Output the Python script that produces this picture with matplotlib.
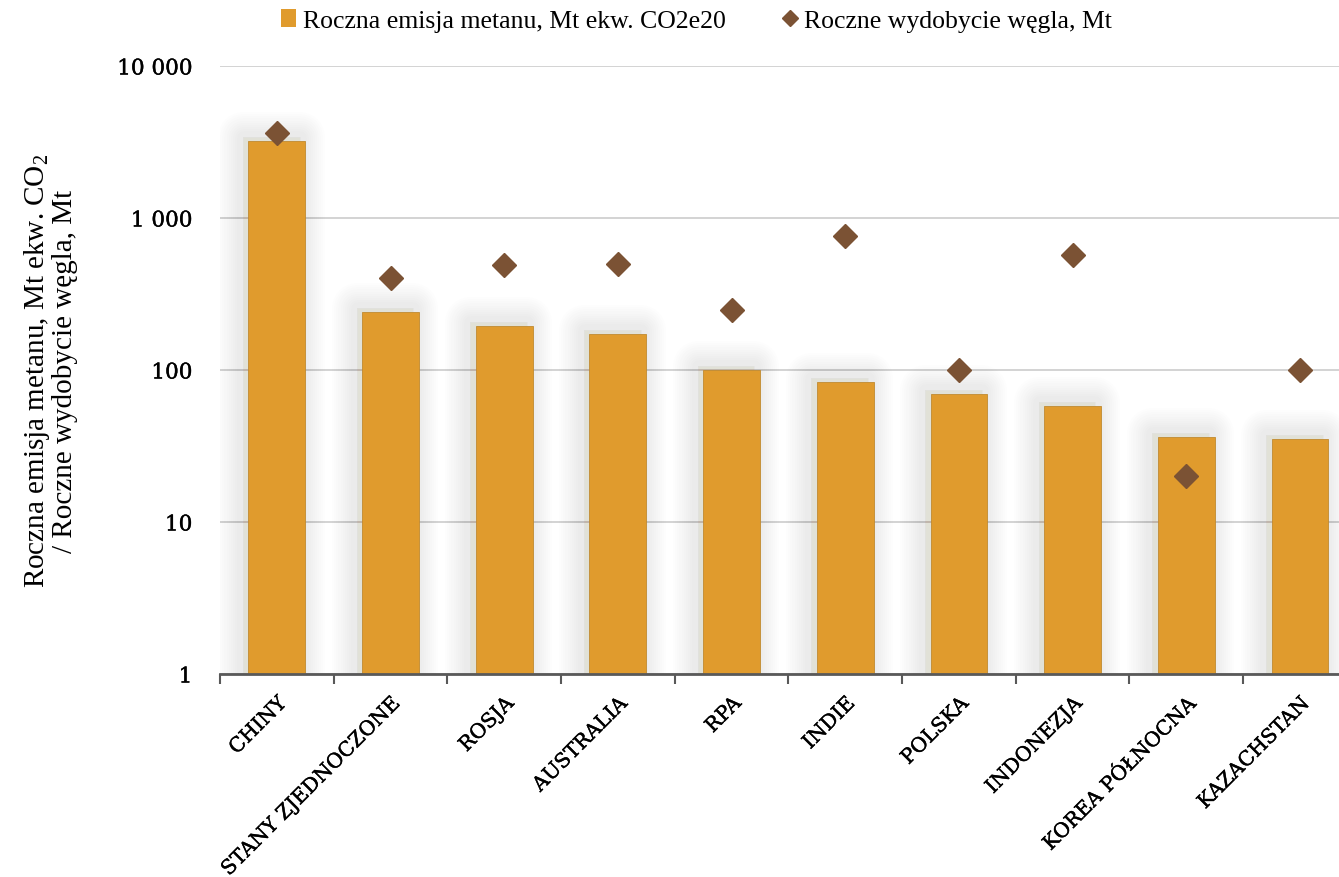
import numpy as np
import matplotlib
matplotlib.use("Agg")
import matplotlib.pyplot as plt
import matplotlib.patheffects as pe
from matplotlib.ticker import FixedLocator, FuncFormatter, NullFormatter
from matplotlib.lines import Line2D
from matplotlib.patches import Patch

# dane: emisja metanu z kopalń węgla vs. wydobycie węgla
kraje = ["CHINY", "STANY ZJEDNOCZONE", "ROSJA", "AUSTRALIA", "RPA",
         "INDIE", "POLSKA", "INDONEZJA", "KOREA PÓŁNOCNA", "KAZACHSTAN"]
emisja_metanu = [3200, 241, 195, 173, 100, 83, 69, 58, 36, 35]
wydobycie_wegla = [3620, 403, 490, 498, 248, 762, 100, 571, 20, 100]

KOLOR_SLUPKA = "#E09B2D"
KOLOR_ROMBU = "#7B5234"

plt.rcParams["font.family"] = ["DejaVu Serif"]
plt.rcParams["mathtext.fontset"] = "custom"
plt.rcParams["mathtext.rm"] = "Liberation Serif"

fig = plt.figure(figsize=(13.39, 8.78), dpi=100)
ax = fig.add_axes([0.1643, 0.2312, 0.849, 0.6925])

x = np.arange(len(kraje))

# miękki cień pod słupkami (kilka półprzezroczystych obrysów z zaokrąglonymi rogami)
cien = [pe.Stroke(linewidth=lw, foreground="black", alpha=0.008, offset=(-4, 3),
                  joinstyle="round")
        for lw in range(36, 6, -3)]
ax.bar(x, emisja_metanu, width=0.5, color=KOLOR_SLUPKA, edgecolor="#C08A30",
       linewidth=0.6, zorder=3, bottom=1e-3,
       path_effects=cien + [pe.Normal()])

ax.plot(x, wydobycie_wegla, linestyle="none", marker="D", markersize=12,
        color=KOLOR_ROMBU, zorder=4)

ax.set_yscale("log")
ax.set_ylim(1, 10000)
ax.set_xlim(-0.5, 9.5)

ax.yaxis.set_major_locator(FixedLocator([1, 10, 100, 1000, 10000]))
ax.yaxis.set_minor_formatter(NullFormatter())
ax.yaxis.set_major_formatter(FuncFormatter(lambda v, _: f"{int(v):,}".replace(",", " ")))
ax.tick_params(axis="y", which="both", length=0, pad=20, labelsize=15.5)
ax.grid(axis="y", which="major", color="#CCCCCC", linewidth=1.2, zorder=0)

ax.set_xticks(x)
ax.set_xticklabels(kraje, rotation=45, ha="right", rotation_mode="anchor",
                   fontsize=14.5)
ax.set_xticks(np.arange(-0.5, 10, 1), minor=True)
ax.tick_params(axis="x", which="major", length=0, pad=14)
ax.tick_params(axis="x", which="minor", length=7, width=1.5, color="#595959")

# nieco grubsze etykiety osi
pogrubienie = [pe.withStroke(linewidth=0.3, foreground="black")]
for etykieta in ax.get_xticklabels() + ax.get_yticklabels():
    etykieta.set_path_effects(pogrubienie)

for s in ["top", "right", "left"]:
    ax.spines[s].set_visible(False)
ax.spines["bottom"].set_color("#595959")
ax.spines["bottom"].set_linewidth(2)
ax.spines["bottom"].set_zorder(5)

ax.set_ylabel("Roczna emisja metanu, Mt ekw. CO$_2$\n/ Roczne wydobycie węgla, Mt",
              fontsize=21, family=["Liberation Serif"], labelpad=28, linespacing=1.0)

uchwyty = [
    Patch(facecolor=KOLOR_SLUPKA, label="Roczna emisja metanu, Mt ekw. CO2e20"),
    Line2D([], [], linestyle="none", marker="D", markersize=8, color=KOLOR_ROMBU,
           label="Roczne wydobycie węgla, Mt"),
]
fig.legend(handles=uchwyty, loc="center", bbox_to_anchor=(0.52, 0.975), ncol=2,
           frameon=False, prop={"family": "Liberation Serif", "size": 18.5},
           handlelength=0.6, handletextpad=0.25, columnspacing=2.2)

fig.savefig("out.png", dpi=100)
